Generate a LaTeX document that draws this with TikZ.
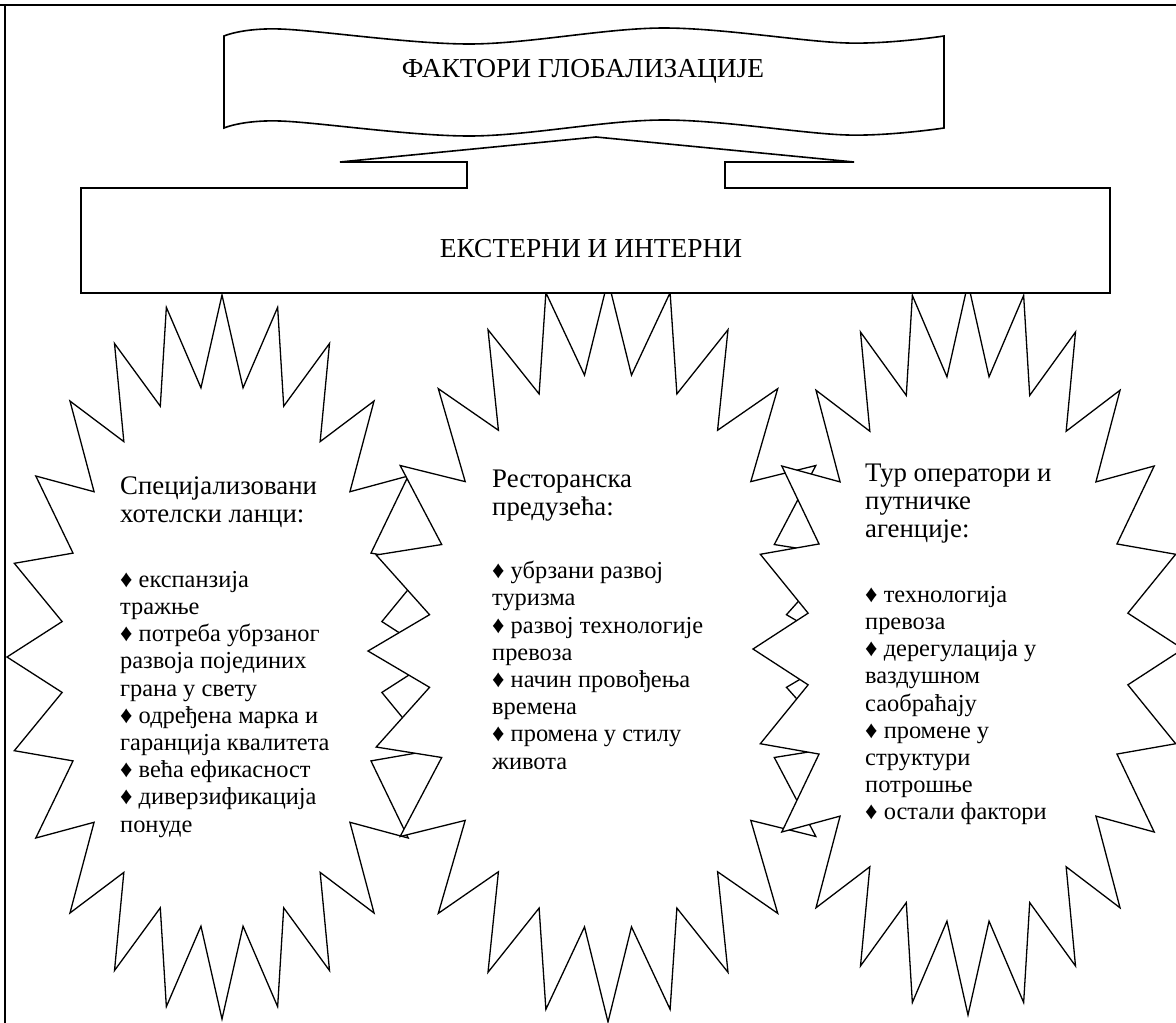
\documentclass[tikz,border=0pt]{standalone}
\usepackage{fontspec}
\setmainfont{Liberation Serif}
\usetikzlibrary{positioning,calc}

\tikzset{
  frameline/.style={line width=1.8pt},
  shapeline/.style={line width=1.6pt,line join=miter},
  burstline/.style={line width=1.3pt,line join=miter,fill=white},
  title/.style={font=\fontsize{27.4}{30}\selectfont,inner sep=0pt},
  head/.style={font=\fontsize{26.8}{28}\selectfont,align=left,inner sep=0pt},
  items/.style={font=\fontsize{24.4}{27.2}\selectfont,align=left,inner sep=0pt},
  pics/burst/.style 2 args={code={
    \pgfmathsetmacro\irx{0.75*#1}\pgfmathsetmacro\iry{0.75*#2}
    \draw[burstline] (90:#1pt and #2pt)
      \foreach \k in {0,...,23} { -- ({97.5+15*\k}:\irx pt and \iry pt) -- ({105+15*\k}:#1pt and #2pt) } -- cycle;
  }}
}

\begin{document}
\begin{tikzpicture}[x=1pt,y=-1pt]
  \useasboundingbox (0,0) rectangle (1176,1023);
  % outer frame
  \draw[frameline] (0,5) -- (1176,5);
  \draw[frameline] (5,5) -- (5,1023);

  % starbursts, each one laid over the one before
  \coordinate (hotelc) at (222,657);
  \coordinate (restc) at (608,651);
  \coordinate (tourc) at (968,649);
  \pic at (hotelc) {burst={215}{362}};
  \pic at (restc) {burst={240}{371}};
  \pic at (tourc) {burst={215}{366}};

  % wave banner
  \draw[shapeline] plot[smooth,tension=0.55] coordinates {(224,36) (280,29) (470,44) (663,28) (847,43) (944,36)}
    -- plot[smooth,tension=0.55] coordinates {(944,128) (847,135) (663,120) (470,136) (280,121) (224,128)} -- cycle;
  \node[title,anchor=base] (globtitle) at (583,77) {ФАКТОРИ ГЛОБАЛИЗАЦИЈЕ};

  % box with up arrow callout
  \coordinate (tip) at (596,137);
  \draw[shapeline,fill=white] (81,188) -- (467,188) -- (467,162) -- (340,162) -- (tip) -- (854,162)
    -- (725,162) -- (725,188) -- (1110,188) -- (1110,293) -- (81,293) -- cycle;
  \node[title,anchor=base] (extint) at (591,257) {ЕКСТЕРНИ И ИНТЕРНИ};

  \node[head,anchor=north west] (hotelhead) at (120,477) {Специјализовани\\хотелски ланци:};
  \node[items,anchor=north west] (hotellist) at (120,571) {♦ експанзија\\тражње\\♦ потреба убрзаног\\развоја појединих\\грана у свету\\♦ одређена марка и\\гаранција квалитета\\♦ већа ефикасност\\♦ диверзификација\\понуде};

  \node[head,anchor=north west] (resthead) at (492,470) {Ресторанска\\предузећа:};
  \node[items,anchor=north west] (restlist) at (492,561) {♦ убрзани развој\\туризма\\♦ развој технологије\\превоза\\♦ начин провођења\\времена\\♦ промена у стилу\\живота};

  \node[head,anchor=north west] (tourhead) at (865,464) {Тур оператори и\\путничке\\агенције:};
  \node[items,anchor=north west] (tourlist) at (865,586) {♦ технологија\\превоза\\♦ дерегулација у\\ваздушном\\саобраћају\\♦ промене у\\структури\\потрошње\\♦ остали фактори};
\end{tikzpicture}
\end{document}
